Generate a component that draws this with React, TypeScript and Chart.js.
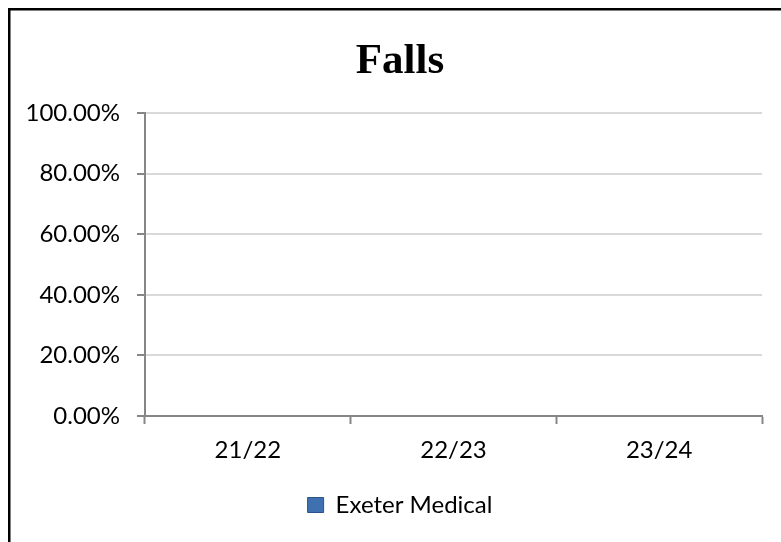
import React, { useEffect, useRef } from "react";
import { Chart, registerables } from "chart.js";

Chart.register(...registerables);

const chartTitle = "Falls";
const categories = ["21/22", "22/23", "23/24"];
const seriesName = "Exeter Medical";
// No bars are visible in the reference: no data for any year.
const seriesValues: (number | null)[] = [null, null, null];
const yTicks = [0, 20, 40, 60, 80, 100];

const LABEL_FONT = "Lato, 'Open Sans', sans-serif";

const frameAndTitle = {
  id: "frameAndTitle",
  afterLayout(chart: any) {
    // let the y tick labels extend into the left padding without being clipped
    if (chart.scales.y) chart.scales.y.left = 0;
  },
  afterDraw(chart: any) {
    const ctx = chart.ctx;
    ctx.save();
    ctx.fillStyle = "#000";
    ctx.fillRect(8, 8, 773, 2.5);
    ctx.fillRect(8, 8, 2.5, 534);
    ctx.font = "bold 43px 'Liberation Serif', serif";
    ctx.textAlign = "center";
    ctx.textBaseline = "alphabetic";
    ctx.fillText(chartTitle, 400, 73);
    ctx.restore();
  },
};

export default function App() {
  const ref = useRef<HTMLCanvasElement | null>(null);
  useEffect(() => {
    if (!ref.current) return;
    const chart = new Chart(ref.current, {
      type: "bar",
      data: {
        labels: categories,
        datasets: [
          {
            label: seriesName,
            data: seriesValues as any,
            backgroundColor: "#3F70B0",
            borderColor: "#2A538A",
            borderWidth: 1,
          },
        ],
      },
      options: {
        responsive: false,
        animation: false,
        devicePixelRatio: 1,
        layout: { padding: { left: 38, right: 19, top: 113, bottom: 15 } },
        plugins: {
          title: { display: false },
          legend: {
            position: "bottom",
            labels: {
              color: "#000",
              font: { family: LABEL_FONT, size: 24 },
              boxWidth: 16,
              boxHeight: 15,
              padding: 10,
            },
          },
          tooltip: { enabled: false },
        },
        scales: {
          x: {
            offset: true,
            grid: {
              offset: true,
              drawOnChartArea: false,
              drawTicks: true,
              tickLength: 8,
              tickColor: "#868686",
              tickWidth: 2,
            },
            border: { color: "#868686", width: 2 },
            ticks: {
              color: "#000",
              font: { family: LABEL_FONT, size: 24 },
              padding: 12,
              maxRotation: 0,
            },
            afterFit(scale: any) {
              scale.height = 67;
            },
          },
          y: {
            min: 0,
            max: 100,
            afterBuildTicks(scale: any) {
              scale.ticks = yTicks.map((v) => ({ value: v }));
            },
            grid: {
              color: "#D9D9D9",
              lineWidth: 2,
              drawTicks: true,
              tickLength: 8,
              tickColor: "#868686",
              tickWidth: 2,
            },
            border: { color: "#868686", width: 2 },
            ticks: {
              color: "#000",
              font: { family: LABEL_FONT, size: 24 },
              padding: 17,
              callback: (v: any) => Number(v).toFixed(2) + "%",
            },
            afterFit(scale: any) {
              scale.width = 107;
            },
          },
        },
      },
      plugins: [frameAndTitle],
    });
    return () => chart.destroy();
  }, []);
  return (
    <div style={{ position: "fixed", left: 0, top: 0, width: 781, height: 542, background: "#fff" }}>
      <canvas ref={ref} width={781} height={542} style={{ display: "block" }} />
    </div>
  );
}
